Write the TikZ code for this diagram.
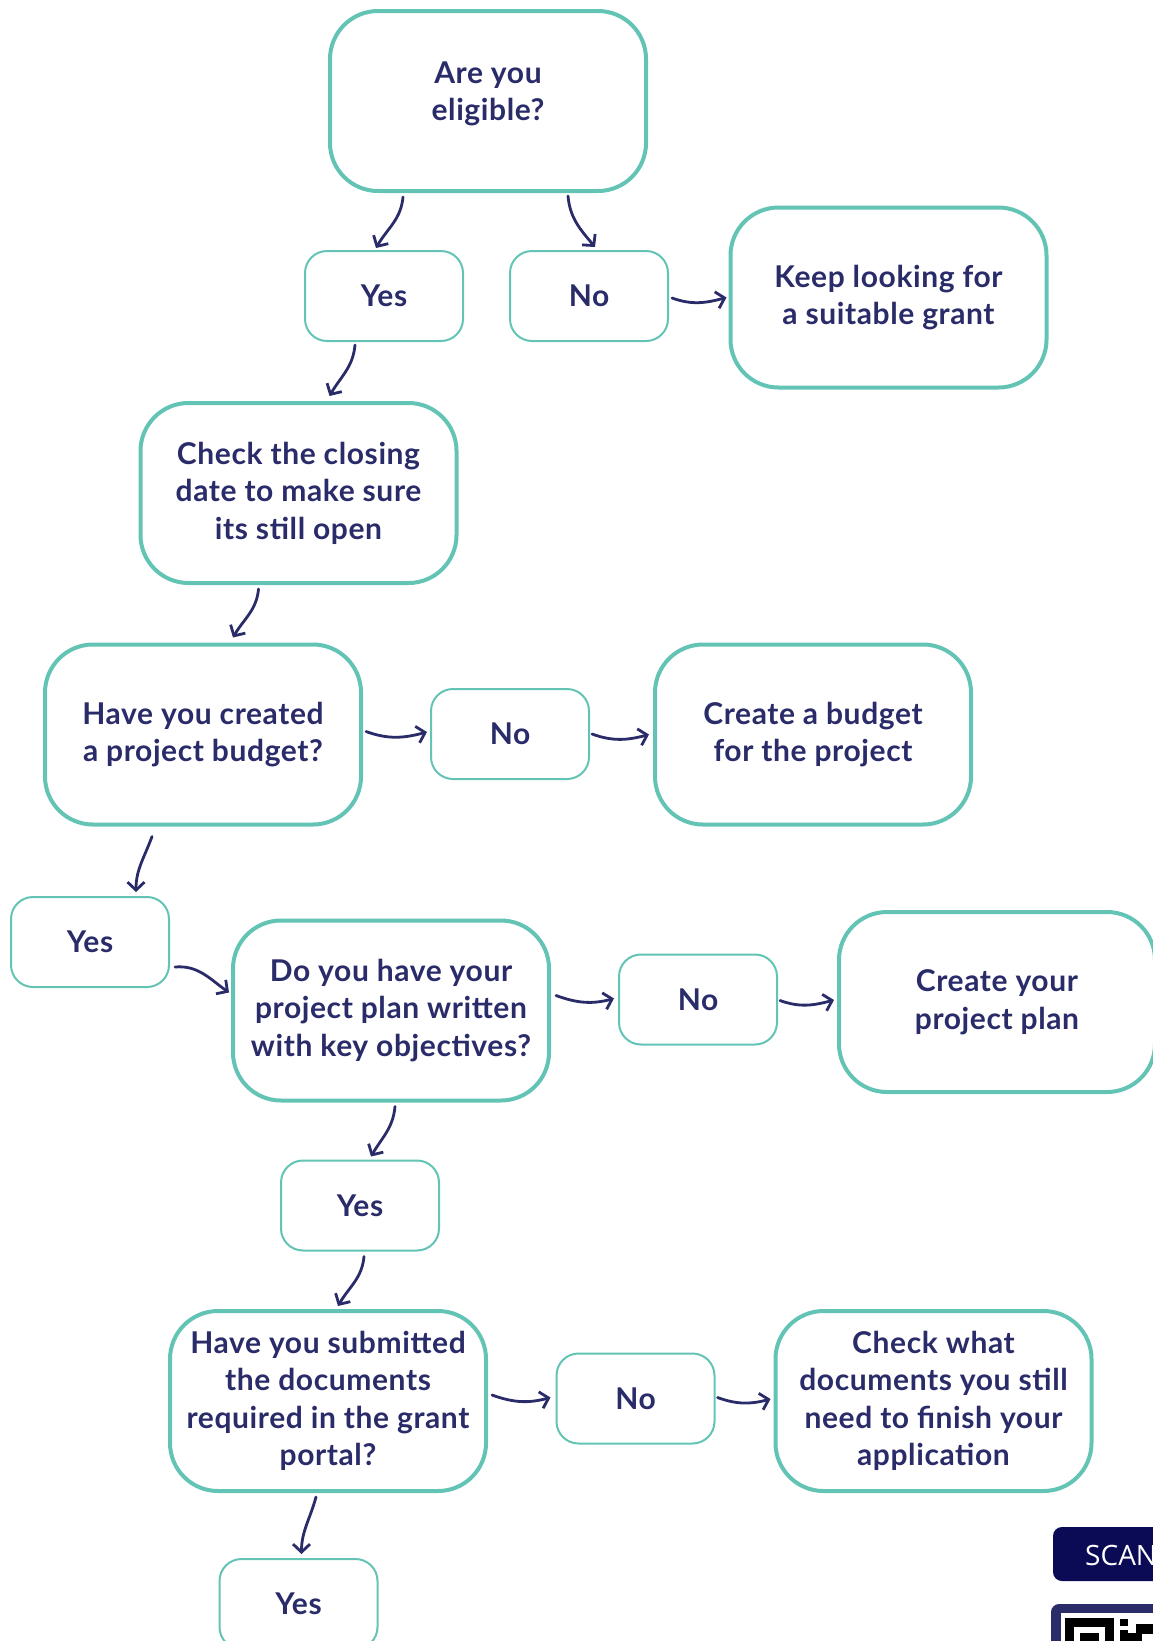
\documentclass[tikz,border=0pt]{standalone}
\usepackage{fontspec}
\setmainfont{Lato}[LetterSpace=2]
\newfontfamily\scanfont{Open Sans}
\usetikzlibrary{arrows.meta}

\definecolor{tealline}{HTML}{63C4B5}
\definecolor{navytext}{HTML}{2A2B69}
\definecolor{scannavy}{HTML}{0A0A55}
\definecolor{qrframe}{HTML}{2A2B69}

\tikzset{
  boxtext/.style={align=center, text=navytext,
    font=\bfseries\fontsize{30}{37.5}\selectfont},
  bigbox/.style={boxtext, draw=tealline, line width=4pt, rounded corners=48pt, fill=white,
    minimum width=316pt, minimum height=180pt},
  smallbox/.style={boxtext, draw=tealline, line width=2pt, rounded corners=22pt, fill=white,
    minimum width=158pt, minimum height=90pt},
  arr/.style={draw=navytext, line width=2.8pt, line cap=round,
    -{Straight Barb[length=8pt,width=17pt,line width=2.8pt]}},
}

\begin{document}
\begin{tikzpicture}[x=1pt, y=1pt]
    \useasboundingbox (0,0) rectangle (1153,-1641);
    \clip (0,0) rectangle (1153,-1641);

    % Nodes
    \node[bigbox] (eligible) at (488,-101) {};
    \node[boxtext] (eligible-text) at (488,-94) {Are you\\eligible?};
    \node[smallbox] (yes-one) at (384,-296) {Yes};
    \node[smallbox] (no-one) at (589,-296) {No};
    \node[bigbox] (keep-looking) at (888.5,-297.5) {Keep looking for\\a suitable grant};

    \node[bigbox] (check-closing) at (298.5,-493) {Check the closing\\date to make sure\\its still open};

    \node[bigbox] (budget-q) at (203,-734.5) {Have you created\\a project budget?};
    \node[smallbox] (no-two) at (510,-734) {No};
    \node[bigbox] (create-budget) at (813,-734.5) {Create a budget\\for the project};

    \node[smallbox] (yes-two) at (90,-942) {Yes};
    \node[bigbox] (plan-q) at (391,-1010.5) {Do you have your\\project plan written\\with key objectives?};
    \node[smallbox] (no-three) at (698,-999.5) {No};
    \node[bigbox] (create-plan) at (997,-1002) {Create your\\project plan};

    \node[smallbox] (yes-three) at (360,-1205.5) {Yes};
    \node[bigbox] (docs-q) at (328,-1401) {Have you submitted\\the documents\\required in the grant\\portal?};
    \node[smallbox] (no-four) at (635.5,-1398.5) {No};
    \node[bigbox] (check-docs) at (933.5,-1401) {Check what\\documents you still\\need to finish your\\application};

    \node[smallbox] (yes-four) at (298.5,-1604) {Yes};

    % Scan badge and code
    \fill[scannavy, rounded corners=9pt] (1053,-1527) rectangle (1190,-1581);
    \node[anchor=west, text=white, inner sep=0pt, font=\scanfont\fontsize{28}{30}\selectfont] (scan) at (1085,-1555) {SCAN};
    \fill[qrframe, rounded corners=8pt] (1051,-1604) rectangle (1190,-1700);
    \fill[white] (1061,-1613) rectangle (1190,-1700);
    \fill[black] (1065,-1618) rectangle (1114,-1660);
    \fill[white] (1074,-1627) rectangle (1105,-1660);
    \fill[black] (1080,-1633) rectangle (1099,-1660);
    \fill[black] (1120,-1619) rectangle (1128,-1626);
    \fill[black] (1120,-1630) rectangle (1128,-1641);
    \fill[black] (1136,-1624) rectangle (1153,-1634);
    \fill[black] (1128,-1633) rectangle (1142,-1641);

    % Lines
    \draw[arr] ([xshift=-85pt,yshift=-4pt]eligible.south) to[out=-95,in=60] ([xshift=-8pt,yshift=2pt]yes-one.north);
    \draw[arr] ([xshift=80pt,yshift=-3pt]eligible.south) to[out=-85,in=130] ([xshift=6pt,yshift=3pt]no-one.north);
    \draw[arr] ([xshift=3pt,yshift=-2pt]no-one.east) to[out=-20,in=195] ([xshift=-2pt]keep-looking.west);

    \draw[arr] ([xshift=-29pt,yshift=-3pt]yes-one.south) to[out=-95,in=60] ([xshift=31pt,yshift=5pt]check-closing.north);
    \draw[arr] ([xshift=-40pt,yshift=-4pt]check-closing.south) to[out=-95,in=60] ([xshift=30pt,yshift=5pt]budget-q.north);

    \draw[arr] ([xshift=3pt,yshift=3pt]budget-q.east) to[out=-20,in=195] ([xshift=-3pt,yshift=2pt]no-two.west);
    \draw[arr] ([xshift=2pt]no-two.east) to[out=-20,in=195] ([xshift=-4pt]create-budget.west);

    \draw[arr] ([xshift=-51pt,yshift=-10pt]budget-q.south) to[out=-110,in=90] ([xshift=46pt,yshift=4pt]yes-two.north);
    \draw[arr] ([xshift=5pt,yshift=-25pt]yes-two.east) to[out=5,in=145] ([xshift=-2pt,yshift=18pt]plan-q.west);

    \draw[arr] ([xshift=5pt,yshift=15pt]plan-q.east) to[out=-20,in=195] ([xshift=-4pt,yshift=1pt]no-three.west);
    \draw[arr] ([xshift=2pt,yshift=-1pt]no-three.east) to[out=-20,in=195] ([xshift=-3pt,yshift=2pt]create-plan.west);

    \draw[arr] ([xshift=4pt,yshift=-4pt]plan-q.south) to[out=-95,in=60] ([xshift=11pt,yshift=3pt]yes-three.north);
    \draw[arr] ([xshift=4pt,yshift=-5pt]yes-three.south) to[out=-95,in=60] ([xshift=10pt,yshift=3pt]docs-q.north);

    \draw[arr] ([xshift=4pt,yshift=6pt]docs-q.east) to[out=-20,in=195] ([xshift=-5pt,yshift=1pt]no-four.west);
    \draw[arr] ([xshift=2pt,yshift=1pt]no-four.east) to[out=-20,in=195] ([xshift=-3pt,yshift=2pt]check-docs.west);

    \draw[arr] ([xshift=-12pt,yshift=-4pt]docs-q.south) to[out=-105,in=90] ([xshift=3pt,yshift=4pt]yes-four.north);

\end{tikzpicture}
\end{document}
